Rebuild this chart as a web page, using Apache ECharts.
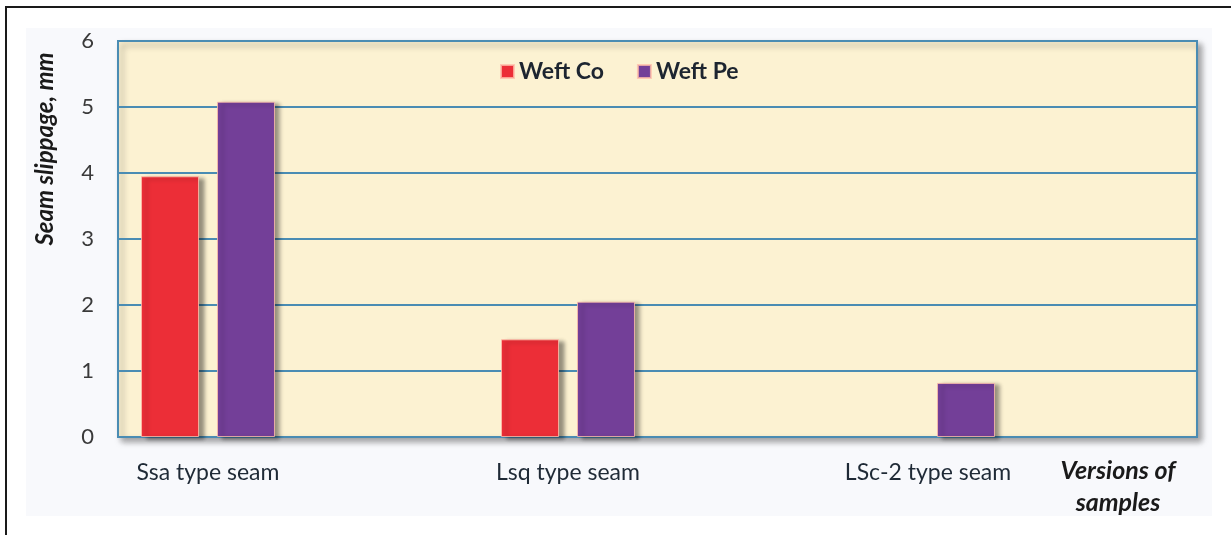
<!DOCTYPE html>
<html>
<head>
<meta charset="utf-8">
<script src="https://cdn.jsdelivr.net/npm/echarts@6/dist/echarts.min.js"></script>
<style>
	html, body { margin: 0; padding: 0; background: #fff; overflow: hidden; }
	#frame { position: absolute; left: 5px; top: 6px; width: 1240px; height: 540px; border-left: 2px solid #1a1a1a; border-top: 2px solid #1a1a1a; }
	#tint { position: absolute; left: 26px; top: 28px; width: 1186px; height: 488px; background: #f8f9fc; }
	#chart { position: absolute; left: 0; top: 0; width: 1231px; height: 535px; }
</style>
</head>
<body>
<div id="frame"></div>
<div id="tint"></div>
<div id="chart"></div>
<script>
	// categories / series
	var seams = ['Ssa type seam', 'Lsq type seam', 'LSc-2 type seam'];
	var weftCo = [3.95, 1.48, null];
	var weftPe = [5.08, 2.05, 0.82];
	var yTicks = [0, 1, 2, 3, 4, 5, 6];

	var labelFont = 'Lato, "Open Sans", "DejaVu Sans", sans-serif';
	var gridBlue = '#4a8cb3';

	var myChart = echarts.init(document.getElementById('chart'));

	var option = {
		backgroundColor: 'transparent',
		legend: {
			left: 495,
			top: 55,
			itemWidth: 13,
			itemHeight: 13,
			itemGap: 33,
			icon: 'rect',
			textStyle: { fontFamily: labelFont, fontSize: 23, color: '#1d2530', fontWeight: 'bold' },
			data: ['Weft Co', 'Weft Pe']
		},
		grid: [
			// bars
			{ left: 28, width: 1080, top: 41, bottom: 98 },
			// plot frame + value axis
			{
				left: 118, right: 34, top: 41, bottom: 98,
				show: true,
				backgroundColor: '#fcf2d2',
				borderColor: gridBlue,
				borderWidth: 2,
				shadowColor: 'rgba(0,0,0,0.35)',
				shadowBlur: 6,
				shadowOffsetX: 4,
				shadowOffsetY: 4
			}
		],
		xAxis: [
			{
				gridIndex: 0,
				type: 'category',
				data: seams,
				axisLine: { show: false },
				axisTick: { show: false },
				axisLabel: {
					margin: 24,
					fontFamily: labelFont,
					fontSize: 23,
					color: '#1f2a36'
				},
				name: 'Versions of\nsamples',
				nameLocation: 'end',
				nameGap: 10,
				nameTextStyle: {
					fontFamily: labelFont,
					fontSize: 25,
					fontStyle: 'italic',
					fontWeight: 'bold',
					color: '#1a1a1a',
					align: 'center',
					verticalAlign: 'top',
					lineHeight: 32,
					padding: [18, 0, 0, 0]
				}
			},
			{
				gridIndex: 1,
				type: 'value',
				show: false
			}
		],
		yAxis: [
			{
				gridIndex: 0,
				type: 'value',
				min: yTicks[0],
				max: yTicks[yTicks.length - 1],
				interval: 1,
				show: false
			},
			{
				gridIndex: 1,
				type: 'value',
				min: yTicks[0],
				max: yTicks[yTicks.length - 1],
				interval: 1,
				axisLine: { show: false },
				axisTick: { show: false },
				axisLabel: {
					margin: 24,
					fontFamily: labelFont,
					fontSize: 22,
					color: '#3a3a3a'
				},
				splitLine: { lineStyle: { color: gridBlue, width: 2 } }
			}
		],
		graphic: [
			{
				type: 'text',
				x: 45,
				y: 149,
				rotation: Math.PI / 2,
				style: {
					text: 'Seam slippage, mm',
					font: 'italic bold 24px ' + labelFont,
					fill: '#1a1a1a',
					align: 'center',
					verticalAlign: 'middle'
				}
			}
		],
		series: [
			{
				name: 'Weft Co',
				type: 'bar',
				xAxisIndex: 0,
				yAxisIndex: 0,
				barWidth: 58,
				barGap: '31%',
				itemStyle: {
					color: '#ec2e37',
					borderColor: 'rgba(255,190,170,0.8)',
					borderWidth: 1,
					shadowColor: 'rgba(0,0,0,0.4)',
					shadowBlur: 4,
					shadowOffsetX: 5,
					shadowOffsetY: 2
				},
				data: weftCo
			},
			{
				name: 'Weft Pe',
				type: 'bar',
				xAxisIndex: 0,
				yAxisIndex: 0,
				barWidth: 58,
				itemStyle: {
					color: '#733f98',
					borderColor: 'rgba(255,190,170,0.8)',
					borderWidth: 1,
					shadowColor: 'rgba(0,0,0,0.4)',
					shadowBlur: 4,
					shadowOffsetX: 5,
					shadowOffsetY: 2
				},
				data: weftPe
			}
		]
	};

	myChart.setOption(option);
</script>
</body>
</html>
